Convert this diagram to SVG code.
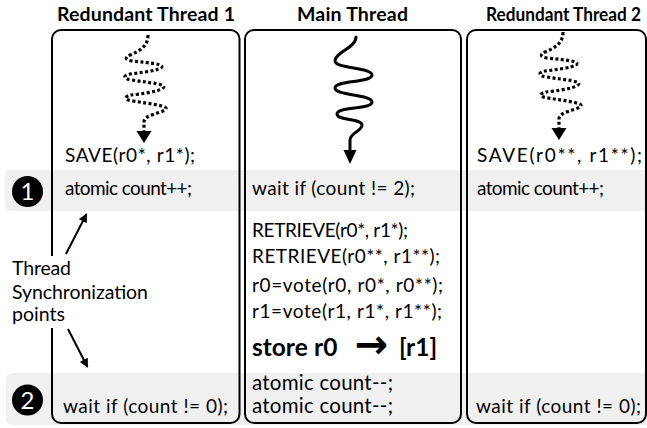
<svg xmlns="http://www.w3.org/2000/svg" width="647" height="428" viewBox="0 0 647 428">
  <style>
    text { font-family: Lato, "Liberation Sans", sans-serif; fill: #000; }
    .hd { font-weight: bold; font-size: 19.5px; }
    .hd-r { font-weight: bold; font-size: 18px; }
    .code { font-size: 19px; }
    .code-lg { font-size: 20.5px; }
    .lbl { font-size: 19.5px; }
    .store { font-size: 24.5px; font-weight: bold; }
    .arrowglyph { font-family: "DejaVu Sans", sans-serif; font-size: 40px; font-weight: bold; text-anchor: middle; }
    .box { fill: none; stroke: #000; stroke-width: 2; }
    .band { fill: #f0f0f0; }
    .dotted { fill: none; stroke: #000; stroke-width: 3.2; stroke-dasharray: 3 2.4; }
    .wave { fill: none; stroke: #000; stroke-width: 3; stroke-linecap: round; }
    .ptr { fill: none; stroke: #000; stroke-width: 2; marker-end: url(#ah); }
    .badge { fill: #000; }
    .num { fill: #fff; font-size: 24px; text-anchor: middle; }
  </style>
  <defs>
    <marker id="ah" viewBox="0 0 10 10" refX="9" refY="5" markerWidth="4.5" markerHeight="4.5" orient="auto" markerUnits="strokeWidth">
      <path d="M0,0 L10,5 L0,10 Z" fill="#000"/>
    </marker>
    <!-- dotted wavy thread trace with its head -->
    <g id="dottedTrace">
      <path class="dotted" d="M148,35 C148,45 142,50 130,55 C124,58 126,60 132,61 C150,63 166,64 161,68 C156,71 138,73 130,74 C122,76 124,79 132,80 C150,83 168,84 163,88 C158,92 140,94 131,95 C123,97 125,100 133,101 C151,104 171,106 165,110 C158,114 144,115 144,122 L144,132"/>
      <path d="M136.5,131 L151.5,131 L144,143 Z" fill="#000"/>
    </g>
  </defs>

  <!-- synchronization bands -->
  <rect class="band" x="5" y="170" width="660" height="41" rx="5"/>
  <rect class="band" x="6" y="373" width="660" height="52" rx="6"/>

  <!-- column headers -->
  <text class="hd" x="57" y="21" textLength="178">Redundant Thread 1</text>
  <text class="hd" x="297" y="21" textLength="111">Main Thread</text>
  <text class="hd-r" x="486" y="21" textLength="155" lengthAdjust="spacingAndGlyphs">Redundant Thread 2</text>

  <g id="thread1">
    <rect class="box" x="52" y="30" width="187.5" height="393" rx="9"/>
    <text class="code" x="65" y="162" textLength="130">SAVE(r0*, r1*);</text>
    <text class="code" x="65" y="195" textLength="127">atomic count++;</text>
    <text class="code" x="63" y="413" textLength="165">wait if (count != 0);</text>
  </g>

  <g id="main">
    <rect class="box" x="245" y="30" width="216" height="393" rx="9"/>
    <text class="code" x="252" y="195" textLength="163">wait if (count != 2);</text>
    <text class="code" x="252" y="237" textLength="156">RETRIEVE(r0*, r1*);</text>
    <text class="code" x="252" y="263" textLength="188">RETRIEVE(r0**, r1**);</text>
    <text class="code" x="252" y="292" textLength="191">r0=vote(r0, r0*, r0**);</text>
    <text class="code" x="252" y="318" textLength="190">r1=vote(r1, r1*, r1**);</text>
    <text class="store" y="356"><tspan x="252">store</tspan><tspan x="314">r0</tspan><tspan x="399">[r1]</tspan></text>
    <text class="arrowglyph" x="371.5" y="358">→</text>
    <text class="code-lg" x="252" y="390" textLength="141">atomic count--;</text>
    <text class="code-lg" x="252" y="413" textLength="141">atomic count--;</text>
  </g>

  <g id="thread2">
    <rect class="box" x="467" y="30" width="179" height="393" rx="9"/>
    <text class="code" x="477" y="162" textLength="165">SAVE(r0**, r1**);</text>
    <text class="code" x="477" y="195" textLength="127">atomic count++;</text>
    <text class="code" x="476" y="413" textLength="165">wait if (count != 0);</text>
  </g>

  <!-- numbered synchronization points -->
  <g id="sync1">
    <circle class="badge" cx="27.5" cy="191.5" r="15.5"/>
    <text class="num" x="27.5" y="200">1</text>
  </g>
  <g id="sync2">
    <circle class="badge" cx="27.5" cy="400" r="15.5"/>
    <text class="num" x="27.5" y="408.5">2</text>
  </g>

  <!-- side label sits on a white patch over the box edge -->
  <g id="syncLabel">
    <rect x="8" y="256" width="142" height="72" fill="#fff"/>
    <text class="lbl" x="12" y="275" textLength="59">Thread</text>
    <text class="lbl" x="12" y="299" textLength="136">Synchronization</text>
    <text class="lbl" x="12" y="321" textLength="53">points</text>
  </g>

  <g id="connectors">
    <!-- execution traces -->
    <use href="#dottedTrace"/>
    <use href="#dottedTrace" transform="translate(415,-3)"/>
    <path class="wave" d="M356,37 C356,48 335,52 335,61 C335,69 372,67 372,75 C372,83 335,80 335,88 C335,96 372,94 372,102 C372,110 337,106 337,114 C337,121 362,118 362,125 C362,131 350,133 350,140 L350,151"/>
    <path d="M343.5,150 L356.5,150 L350,164 Z" fill="#000"/>
    <!-- label pointers -->
    <line class="ptr" x1="66" y1="254" x2="86.5" y2="214"/>
    <line class="ptr" x1="68" y1="329" x2="87.5" y2="367"/>
  </g>
</svg>
